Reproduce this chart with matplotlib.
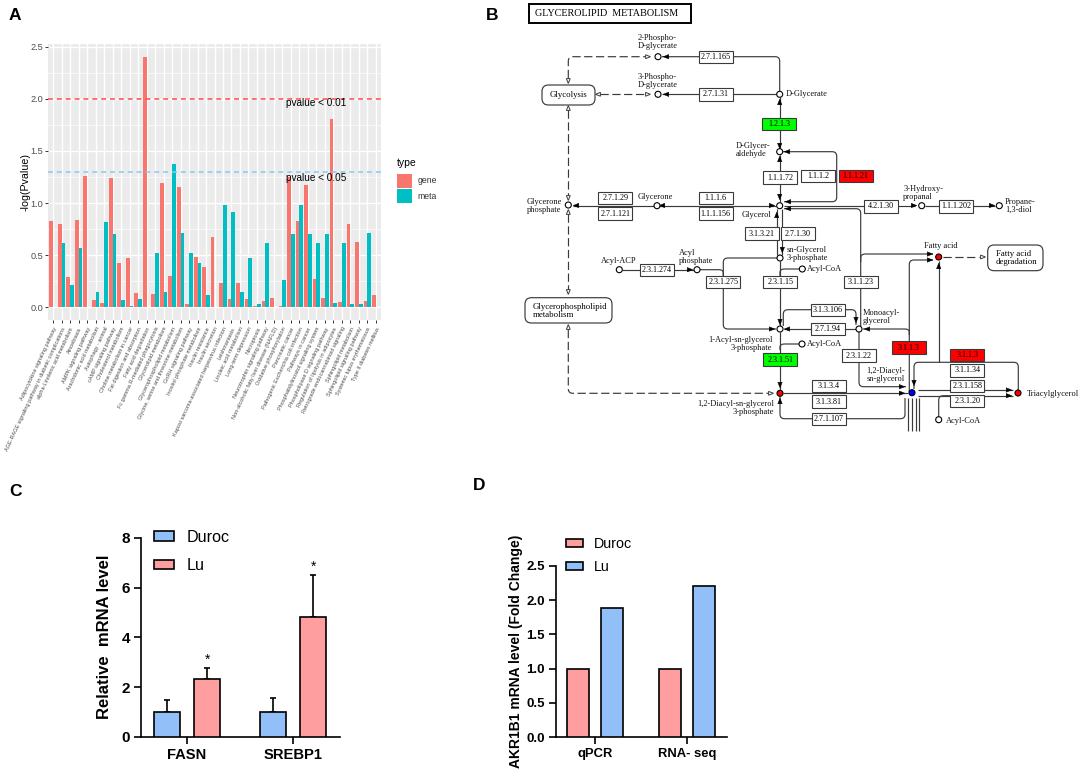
import matplotlib
matplotlib.use("Agg")
import matplotlib.pyplot as plt
import numpy as np
from matplotlib.patches import FancyBboxPatch, Polygon, Circle, PathPatch, Rectangle
from matplotlib.path import Path

W, H = 1084, 775
SANS = ['Liberation Sans', 'DejaVu Sans']
SERIF = ['Liberation Serif', 'DejaVu Serif']
plt.rcParams['font.family'] = SANS

# ---------- Panel A data ----------
pathways = ["Adipocytokine signaling pathway",
 "AGE-RAGE signaling pathway in diabetic complications",
 "alpha-Linolenic acid metabolism", "Amoebiasis", "AMPK signaling pathway",
 "Arachidonic acid metabolism", "Autophagy - animal", "cAMP signaling pathway",
 "Cholesterol metabolism", "Choline metabolism in cancer", "Fat digestion and absorption",
 "Fatty acid degradation", "Fc gamma R-mediated phagocytosis", "Glycerolipid metabolism",
 "Glycerophospholipid metabolism", "Glycine, serine and threonine metabolism",
 "GnRH signaling pathway", "Inositol phosphate metabolism", "Insulin resistance",
 "Insulin secretion", "Kaposi sarcoma-associated herpesvirus infection", "Leishmaniasis",
 "Linoleic acid metabolism", "Long-term depression", "Necroptosis",
 "Neurotrophin signaling pathway", "Non-alcoholic fatty liver disease (NAFLD)",
 "Oxidative phosphorylation", "Pancreatic cancer", "Pathogenic Escherichia coli infection",
 "Pathways in cancer", "Phosphatidylinositol signaling system",
 "Phospholipase D signaling pathway", "Regulation of lipolysis in adipocytes",
 "Retrograde endocannabinoid signaling", "Sphingolipid metabolism",
 "Sphingolipid signaling pathway", "Systemic lupus erythematosus", "Type II diabetes mellitus"]
gene_vals = [.83,.80,.29,.84,1.26,.07,.04,1.24,.42,.47,.135,2.40,.125,1.19,.30,1.15,.03,.48,.39,.675,
             .235,.075,.235,.08,.015,.06,.085,.01,1.25,.825,1.17,.27,.09,1.81,.055,.80,.63,.065,.12]
meta_vals = [0,.62,.21,.57,0,.15,.82,.70,.07,.01,.08,0,.52,.15,1.37,.71,.52,.42,.115,0,
             .98,.91,.15,.47,.03,.62,0,.265,.70,.98,.70,.62,.70,.045,.62,.035,.035,.71,0]
threshold_vals = [2.0, 1.3]
threshold_text = ["pvalue < 0.01", "pvalue < 0.05"]

# ---------- Panel C / D data ----------
c_groups = ["FASN", "SREBP1"]
c_duroc = [1.0, 1.0]
c_lu = [2.33, 4.8]
c_duroc_err = [0.47, 0.55]
c_lu_err = [0.42, 1.7]
d_groups = ["qPCR", "RNA- seq"]
d_duroc = [1.0, 1.0]
d_lu = [1.89, 2.21]

# ---------- Panel B diagram content (pixel layout of a pathway map) ----------
RED, GREEN, BLUE = '#FF0000', '#00FF00', '#0000FF'
enzymes = [("2.7.1.165",715.7,56.7,None),("2.7.1.31",715.7,94.3,None),("1.2.1.3",779,124,GREEN),
 ("1.1.1.72",780.3,177.3,None),("2.7.1.29",615.3,198,None),("2.7.1.121",615.3,213.3,None),
 ("1.1.1.6",715.7,198,None),("1.1.1.156",715.7,213.3,None),("3.1.3.21",761.7,233.3,None),
 ("2.7.1.30",798,233.3,None),("1.1.1.2",818.3,175.7,None),("1.1.1.21",855.7,175.7,RED),
 ("4.2.1.30",880.7,206.3,None),("1.1.1.202",956,206.3,None),("2.3.1.274",657,270,None),
 ("2.3.1.275",723.3,282,None),("2.3.1.15",780.3,282,None),("2.3.1.51",780.3,359.3,GREEN),
 ("3.1.1.23",860.7,282,None),("3.1.3.106",827.7,309.7,None),("2.7.1.94",827.7,329,None),
 ("2.3.1.22",859,355.3,None),("3.1.1.3",909,347.3,RED),("3.1.1.3",967.3,354.7,RED),
 ("3.1.1.34",967.3,370.3,None),("2.3.1.158",967.3,385.7,None),("2.3.1.20",967.3,400.7,None),
 ("3.1.3.4",829,385.7,None),("3.1.3.81",829,401.3,None),("2.7.1.107",829,418.7,None)]
nodes = [(658,56.7,None),(658,94.3,None),(779.7,94.3,None),(779.7,151.7,None),(779.7,205.7,None),
 (568.3,205,None),(657,205.7,None),(921.7,205.7,None),(999.3,205.7,None),(780,258,None),
 (619.3,269.7,None),(697,269.7,None),(802.3,269,None),(780,329,None),(859,329,None),(802,344,None),
 (780,393.3,RED),(912,392.7,BLUE),(1018,393,RED),(938.7,257,RED),(938.7,419.7,None)]
solid_paths = [
 [(662,56.7),(779.7,56.7),(779.7,91)],[(662,94.3),(776.5,94.3)],[(779.7,97),(779.7,148)],
 [(783,151.7),(836.7,151.7),(836.7,201.7),(784,201.7)],[(779.7,155),(779.7,202)],
 [(573,205.5),(776,205.5)],[(784,208.7),(860.7,208.7),(860.7,326)],
 [(784,205.5),(915,205.5)],[(925,205.5),(995,205.5)],[(777,209),(777,255)],[(782.3,209),(782.3,255)],
 [(780,261),(780,326)],[(622,269.7),(694,269.7)],[(700,269.7),(723.3,269.7),(723.3,276)],
 [(777,258),(723.3,258),(723.3,329),(776,329)],[(799,269),(780,269),(780,276)],
 [(784,329),(856,329)],[(783.3,326),(783.3,309.7),(856,309.7),(856,325)],
 [(859,332),(859,386.7),(906,386.7)],[(783,393.2),(908,393.2)],[(780,332),(780,390)],
 [(799,344),(780,344),(780,350)],[(780,397),(780,418.7),(905,418.7),(905,398)],
 [(909.3,392),(909.3,260),(933,260)],[(909.3,335),(909.3,329),(863,329)],
 [(860.7,262),(860.7,254),(933,254)],[(938.7,261),(938.7,362.3)],
 [(914,389),(914,362.3),(1018.3,362.3),(1018.3,390)],[(918.3,390),(1013,390)],[(918.3,395.7),(1013,395.7)],
 [(938.7,417),(938.7,395.7),(950,395.7)],
 [(908.3,398),(908.3,431)],[(912,398),(912,431)],[(915.7,398),(915.7,431)],[(919.3,398),(919.3,431)]]
dashed_paths = [[(568.3,78),(568.3,56.7),(646,56.7)],[(600,94.3),(646,94.3)],[(568.3,110),(568.3,195)],
 [(568.3,214),(568.3,290)],[(568.3,330),(568.3,393.3),(769,393.3)],[(943,257),(979,257)]]
solid_arrows = [(666,56.7,'l'),(666,94.3,'l'),(779.7,102,'u'),(779.7,146,'d'),(787,151.7,'l'),
 (779.7,159,'u'),(779.7,197,'d'),(576,205.5,'l'),(662,205.5,'l'),(772,205.5,'r'),(788,201.7,'l'),(788,208.7,'l'),
 (914,205.5,'r'),(992,205.5,'r'),(776.7,215,'u'),(782.3,250,'d'),(690,269.7,'r'),(772,329,'r'),
 (780,322,'d'),(787,329,'l'),(856,320,'d'),(867,329,'l'),(902,386.7,'r'),(902,393.2,'r'),(780,385,'d'),
 (780,401,'u'),(930,260,'r'),(930,254,'r'),(938.7,266,'u'),(914,383,'d'),(1009,390,'r'),(1009,395.7,'r')]
open_arrows = [(568.3,81,'d'),(648,56.7,'r'),(598,94.3,'l'),(648,94.3,'r'),(568.3,108,'u'),(568.3,198,'d'),
 (568.3,212,'u'),(568.3,292,'d'),(568.3,327,'u'),(771,393.3,'r'),(983,257,'r')]
map_boxes = [(542,85,53,20,"Glycolysis",568.5,95,'center'),
 (525,297.7,87,25.3,"Glycerophospholipid\nmetabolism",532.7,311,'left'),
 (987.7,245,55.3,25.7,"Fatty acid\ndegradation",996,258.5,'left')]
compounds = [("2-Phospho-\nD-glycerate",637.3,42.2,'left'),("3-Phospho-\nD-glycerate",637.3,80.8,'left'),
 ("D-Glycerate",786,94.5,'left'),("D-Glycer-\naldehyde",736,150.5,'left'),
 ("Glycerone\nphosphate",527,206.3,'left'),("Glycerone",637.3,197.3,'left'),("Glycerol",741.7,215,'left'),
 ("sn-Glycerol\n3-phosphate",787,254.5,'left'),("3-Hydroxy-\npropanal",903.3,193,'left'),
 ("Propane-\n1,3-diol",1005,205.7,'left'),("Acyl-ACP",601,261,'left'),("Acyl\nphosphate",678.7,256.7,'left'),
 ("Acyl-CoA",806.7,269,'left'),("Monoacyl-\nglycerol",862.3,316.8,'left'),("Acyl-CoA",806.7,344,'left'),
 ("1-Acyl-sn-glycerol\n3-phosphate",772.3,344,'right'),("1,2-Diacyl-sn-glycerol\n3-phosphate",774,408,'right'),
 ("1,2-Diacyl-\nsn-glycerol",866.7,374.6,'left'),("Fatty acid",924.3,245.7,'left'),
 ("Triacylglycerol",1027.3,393.7,'left'),("Acyl-CoA",946,420.7,'left')]

fig = plt.figure(figsize=(W/100, H/100), dpi=100, facecolor='white')

def axes_px(l, t, r, b):
    return fig.add_axes([l/W, 1-b/H, (r-l)/W, (b-t)/H])

canvas = fig.add_axes([0, 0, 1, 1])
canvas.set_xlim(0, W); canvas.set_ylim(H, 0); canvas.axis('off')

for s, x, y in [("A", 9, 15.5), ("B", 486, 15.5), ("C", 9, 491), ("D", 473, 485)]:
    canvas.text(x, y, s, fontsize=12.5, fontweight='bold', ha='left', va='center')

# ---------- Panel A ----------
axA = axes_px(48, 43.5, 381, 320)
idx = np.arange(1, len(pathways)+1)
GENE, META = '#F8766D', '#00BFC4'
axA.set_facecolor('#EBEBEB')
axA.bar(idx-0.225, gene_vals, 0.45, color=GENE, label='gene', zorder=3)
axA.bar(idx+0.225, meta_vals, 0.45, color=META, label='meta', zorder=3)
axA.set_xlim(0.4, 39.6); axA.set_ylim(-0.122, 2.53)
axA.set_yticks([0, .5, 1, 1.5, 2, 2.5]); axA.set_yticklabels(['0.0','0.5','1.0','1.5','2.0','2.5'])
axA.set_yticks(np.arange(0.25, 2.5, 0.5), minor=True)
axA.set_xticks(idx)
axA.set_xticklabels(pathways, rotation=65, ha='right', va='top', rotation_mode='anchor',
                    fontsize=4.0, color='#4D4D4D')
axA.tick_params(axis='y', which='major', labelsize=6.6, labelcolor='#4D4D4D', length=2, width=.7, color='#333333', pad=1.5)
axA.tick_params(axis='x', which='major', length=2, width=.7, color='#333333', pad=2.5)
axA.tick_params(which='minor', length=0)
axA.grid(True, which='major', color='white', lw=1.0, zorder=1)
axA.grid(True, which='minor', axis='y', color='white', lw=0.5, zorder=1)
axA.set_axisbelow(True)
for sp in axA.spines.values():
    sp.set_visible(False)
for v, col in zip(threshold_vals, ['#FF4A4A', '#86C8F5']):
    axA.axhline(v, color=col, lw=1.1, ls=(0, (3.2, 2.6)), zorder=4)
for v, t, dy in zip(threshold_vals, threshold_text, [-0.04, -0.06]):
    axA.text(32, v+dy, t, fontsize=7.2, ha='center', va='center', color='black', zorder=5)
axA.set_ylabel("-log(Pvalue)", fontsize=7.7, color='black', labelpad=3)
axA.yaxis.set_label_coords((31-48)/333, 1-(181.7-43.5)/276.5)
legA = axA.legend(title='type', loc='upper left', bbox_to_anchor=(397/W, 1-158/H), bbox_transform=fig.transFigure,
                  frameon=False, fontsize=6.2, title_fontsize=7.5, borderpad=0, borderaxespad=0,
                  handlelength=1.75, handleheight=2.2, handletextpad=0.6, labelspacing=0.1)
legA._legend_box.align = 'left'
legA._legend_box.sep = 4
for t in legA.get_texts():
    t.set_color('#333333')

# ---------- Panels C, D ----------
BLUEBAR, PINKBAR = '#93BFF9', '#FF9E9E'
def prism(ax, ytk, ylbls, size):
    for s in ('top', 'right'):
        ax.spines[s].set_visible(False)
    for s in ('left', 'bottom'):
        ax.spines[s].set_linewidth(1.2)
    ax.set_yticks(ytk); ax.set_yticklabels(ylbls, fontweight='bold', fontsize=size)
    ax.tick_params(axis='both', length=5, width=1.2, pad=3)
    for l in ax.get_xticklabels():
        l.set_fontweight('bold')

axC = axes_px(141, 537.7, 340, 737)
gx = np.arange(len(c_groups))
axC.bar(gx-0.19, c_duroc, 0.24, color=BLUEBAR, edgecolor='black', lw=1.2, label='Duroc', zorder=3)
axC.bar(gx+0.19, c_lu, 0.24, color=PINKBAR, edgecolor='black', lw=1.2, label='Lu', zorder=3)
for xs, v, e in [(gx-0.19, c_duroc, c_duroc_err), (gx+0.19, c_lu, c_lu_err)]:
    axC.errorbar(xs, v, yerr=[np.zeros(2), e], fmt='none', ecolor='black', elinewidth=1.2,
                 capsize=2.5, capthick=1.2, zorder=2)
axC.set_xlim(-0.434, 1.443); axC.set_ylim(0, 8)
axC.set_xticks(gx); axC.set_xticklabels(c_groups, fontsize=10.6)
prism(axC, [0, 2, 4, 6, 8], ['0', '2', '4', '6', '8'], 11)
for x, v, e in zip(gx+0.19, c_lu, c_lu_err):
    axC.annotate('*', (x, v+e), xytext=(0, 1), textcoords='offset points', ha='center', va='bottom', fontsize=10)
axC.set_ylabel("Relative  mRNA level", fontsize=12, fontweight='bold')
axC.yaxis.set_label_coords((112-141)/199, 1-(637-537.7)/199.3)
axC.legend(loc='upper left', bbox_to_anchor=(154/W, 1-530/H), bbox_transform=fig.transFigure, frameon=False,
           fontsize=11.6, borderpad=0, borderaxespad=0, handlelength=1.25, handleheight=0.56,
           handletextpad=0.8, labelspacing=0.82)

axD = axes_px(555.7, 566, 726.7, 737)
gx = np.arange(len(d_groups))
axD.bar(gx-0.185, d_duroc, 0.24, color=PINKBAR, edgecolor='black', lw=1.2, label='Duroc', zorder=3)
axD.bar(gx+0.185, d_lu, 0.24, color=BLUEBAR, edgecolor='black', lw=1.2, label='Lu', zorder=3)
axD.set_xlim((555.7-595)/91.7, (726.7-595)/91.7); axD.set_ylim(0, 2.5)
axD.set_xticks(gx); axD.set_xticklabels(d_groups, fontsize=9.4)
prism(axD, [0, .5, 1, 1.5, 2, 2.5], ['0.0', '0.5', '1.0', '1.5', '2.0', '2.5'], 9.5)
axD.set_ylabel("AKR1B1 mRNA level (Fold Change)", fontsize=10, fontweight='bold')
axD.yaxis.set_label_coords((523-555.7)/171, 1-(651.7-566)/171)
axD.legend(loc='upper left', bbox_to_anchor=(565.7/W, 1-537/H), bbox_transform=fig.transFigure, frameon=False,
           fontsize=10.3, borderpad=0, borderaxespad=0, handlelength=1.2, handleheight=0.5,
           handletextpad=0.75, labelspacing=0.62)

# ---------- Panel B ----------
LINE = '#3A3A3A'
def rounded(points, r=4.5):
    verts = [points[0]]; codes = [Path.MOVETO]
    for i in range(1, len(points)-1):
        p0, p1, p2 = map(np.array, (points[i-1], points[i], points[i+1]))
        a = p1 + (p0-p1)/np.linalg.norm(p0-p1)*min(r, np.linalg.norm(p0-p1)/2)
        b = p1 + (p2-p1)/np.linalg.norm(p2-p1)*min(r, np.linalg.norm(p2-p1)/2)
        verts += [tuple(a), tuple(p1), tuple(b)]
        codes += [Path.LINETO, Path.CURVE3, Path.CURVE3]
    verts.append(points[-1]); codes.append(Path.LINETO)
    return Path(verts, codes)
for pts in solid_paths:
    canvas.add_patch(PathPatch(rounded(pts), fc='none', ec=LINE, lw=0.85, zorder=2))
for pts in dashed_paths:
    canvas.add_patch(PathPatch(rounded(pts), fc='none', ec=LINE, lw=0.85, ls=(0, (7, 3)), zorder=2))
DIRS = {'l': (-1, 0), 'r': (1, 0), 'u': (0, -1), 'd': (0, 1)}
def tri(x, y, d, size, filled):
    dx, dy = DIRS[d]
    pts = [(x+dx*size, y+dy*size), (x-dx*size-dy*size*.8, y-dy*size-dx*size*.8),
           (x-dx*size+dy*size*.8, y-dy*size+dx*size*.8)]
    canvas.add_patch(Polygon(pts, closed=True, fc='black' if filled else 'white', ec='black' if filled else LINE,
                             lw=0.3 if filled else 0.7, zorder=4))
for x, y, d in solid_arrows:
    tri(x, y, d, 2.8, True)
for x, y, d in open_arrows:
    tri(x, y, d, 2.4, False)
for (x, y, c) in nodes:
    canvas.add_patch(Circle((x, y), 3.0, fc=c or 'white', ec='black', lw=0.8, zorder=5))
for t, x, y, c in enzymes:
    canvas.add_patch(Rectangle((x-17, y-6.2), 34, 12.4, fc=c or 'white', ec=LINE, lw=0.8, zorder=3))
    canvas.text(x, y+0.2, t, family=SERIF, fontsize=5.9, ha='center', va='center', color='black', zorder=6)
for x, y, w, h, t, tx, ty, ha in map_boxes:
    canvas.add_patch(FancyBboxPatch((x+6, y+6), w-12, h-12, boxstyle='round,pad=6,rounding_size=6.5',
                                    fc='white', ec=LINE, lw=0.85, zorder=3))
    canvas.text(tx, ty, t, family=SERIF, fontsize=6.3, ha=ha, va='center', linespacing=1.0, zorder=6)
for t, x, y, ha in compounds:
    canvas.text(x, y, t, family=SERIF, fontsize=6.0, ha=ha, va='center', linespacing=1.0, zorder=6, color='#111111')
canvas.add_patch(Rectangle((529, 3.5), 162, 19, fc='white', ec='black', lw=1.4, zorder=3))
canvas.text(535, 13.5, "GLYCEROLIPID  METABOLISM", family=SERIF, fontsize=7.3, ha='left', va='center', zorder=6)

fig.savefig('out.png', dpi=100, facecolor='white')
